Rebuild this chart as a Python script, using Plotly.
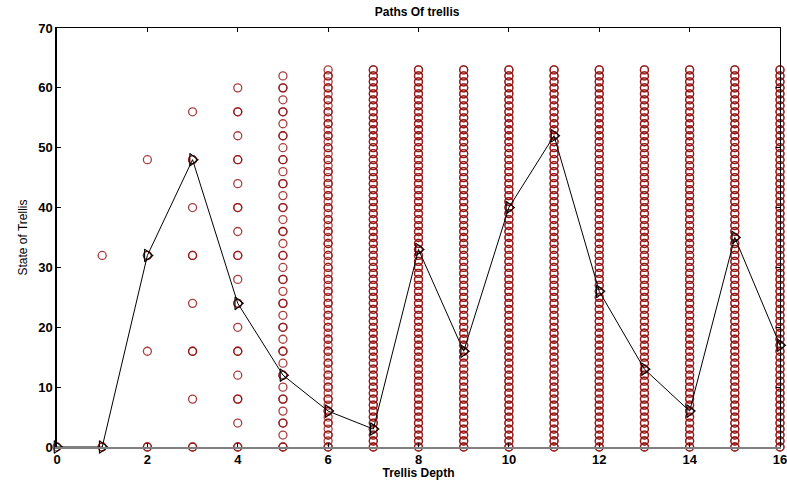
import plotly.graph_objects as go

# Trellis states reachable at each depth
states_d0 = [0]
states_d1 = [0, 32]
states_d2 = [0, 16, 32, 48]
states_d3 = [0, 8, 16, 24, 32, 40, 48, 56]
states_d4 = [0, 4, 8, 12, 16, 20, 24, 28, 32, 36, 40, 44, 48, 52, 56, 60]
states_d5 = [0, 2, 4, 6, 8, 10, 12, 14, 16, 18, 20, 22, 24, 26, 28, 30,
             32, 34, 36, 38, 40, 42, 44, 46, 48, 50, 52, 54, 56, 58, 60, 62]
states_full = [0, 1, 2, 3, 4, 5, 6, 7, 8, 9, 10, 11, 12, 13, 14, 15,
               16, 17, 18, 19, 20, 21, 22, 23, 24, 25, 26, 27, 28, 29, 30, 31,
               32, 33, 34, 35, 36, 37, 38, 39, 40, 41, 42, 43, 44, 45, 46, 47,
               48, 49, 50, 51, 52, 53, 54, 55, 56, 57, 58, 59, 60, 61, 62, 63]
depth_states = [states_d0, states_d1, states_d2, states_d3, states_d4, states_d5] + [states_full] * 11

# Survivor path
path_depth = [0, 1, 2, 3, 4, 5, 6, 7, 8, 9, 10, 11, 12, 13, 14, 15, 16]
path_state = [0, 0, 32, 48, 24, 12, 6, 3, 33, 16, 40, 52, 26, 13, 6, 35, 17]

x_ticks = [0, 2, 4, 6, 8, 10, 12, 14, 16]
y_ticks = [0, 10, 20, 30, 40, 50, 60, 70]

fig = go.Figure()

circ_x, circ_y = [], []
for d, st in enumerate(depth_states):
    circ_x += [d] * len(st)
    circ_y += st
# overlay circles from the previous depth (drawn twice -> darker)
over_x, over_y = [], []
for d in range(1, len(depth_states)):
    prev = depth_states[d - 1]
    over_x += [d] * len(prev)
    over_y += prev

for xs, ys in [(circ_x, circ_y), (over_x, over_y)]:
    fig.add_trace(go.Scatter(
        x=xs, y=ys, mode="markers",
        marker=dict(symbol="circle-open", size=8,
                    line=dict(color="rgba(145,15,15,0.8)", width=1.3),
                    color="rgba(145,15,15,0.8)"),
        cliponaxis=False, showlegend=False, hoverinfo="skip"))

fig.add_trace(go.Scatter(
    x=path_depth, y=path_state, mode="lines+markers",
    line=dict(color="black", width=1),
    marker=dict(symbol="triangle-right-open", size=11,
                line=dict(color="black", width=1.1), color="black"),
    cliponaxis=False, showlegend=False))

# invisible trace for mirror axes
fig.add_trace(go.Scatter(x=[0], y=[0], xaxis="x2", yaxis="y2", mode="markers",
                         marker=dict(opacity=0), showlegend=False, hoverinfo="skip"))

font_ticks = dict(family="Liberation Sans, Arial", size=13, color="black", weight="bold")
font_lab = dict(family="Liberation Sans, Arial", size=12, color="black", weight="bold")
font_ylab = dict(family="Liberation Sans, Arial", size=12, color="black")

fig.update_layout(
    width=787, height=480,
    margin=dict(l=57, r=7, t=28, b=33, autoexpand=False),
    paper_bgcolor="white", plot_bgcolor="white",
    title=dict(text="Paths Of trellis", x=0.53, xanchor="center", y=0.985, yanchor="top",
               font=font_lab),
    xaxis=dict(range=[0, 16], tickvals=x_ticks, ticks="inside", ticklen=4,
               tickcolor="black", showline=True, linecolor="#808080", linewidth=1.5,
               showgrid=False, zeroline=False, tickfont=font_ticks, automargin=False,
               ticklabeloverflow="allow",
               title=dict(text="Trellis Depth", standoff=0, font=font_lab)),
    yaxis=dict(range=[0, 70], tickvals=y_ticks, ticks="inside", ticklen=4,
               tickcolor="black", showline=True, linecolor="black", linewidth=1.5,
               showgrid=False, zeroline=False, tickfont=font_ticks, automargin=False,
               ticklabeloverflow="allow",
               title=dict(text="State of Trellis", standoff=8, font=font_ylab)),
    xaxis2=dict(range=[0, 16], tickvals=x_ticks, overlaying="x", side="top", ticks="inside",
                ticklen=4, tickcolor="black", showline=True, linecolor="black", linewidth=1,
                showticklabels=False, showgrid=False, zeroline=False),
    yaxis2=dict(range=[0, 70], tickvals=y_ticks, overlaying="y", side="right", ticks="inside",
                ticklen=4, tickcolor="black", showline=True, linecolor="black", linewidth=1,
                showticklabels=False, showgrid=False, zeroline=False),
)

fig.write_html("out.html")
